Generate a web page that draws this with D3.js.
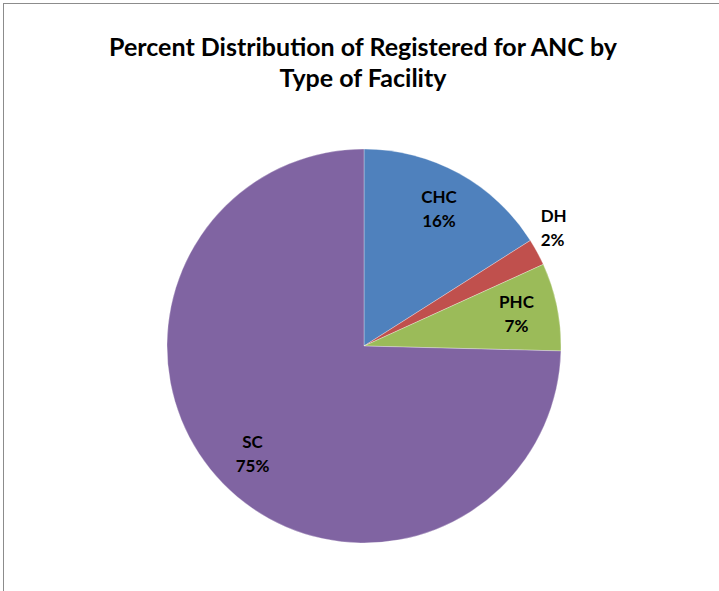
<!DOCTYPE html>
<html>
<head>
<meta charset="utf-8">
<script src="https://cdn.jsdelivr.net/npm/d3@7"></script>
<style>
  body { margin: 0; background: #fff; }
  text { font-family: Lato, "Open Sans", sans-serif; font-weight: bold; fill: #000; }
</style>
</head>
<body>
<div id="chart"></div>
<script>
// data
var categories = ["CHC", "DH", "PHC", "SC"];
var values = [16.0, 2.2, 7.2, 74.6];
var colors = ["#4F81BD", "#C0504D", "#9BBB59", "#8064A2"];
var titleLines = ["Percent Distribution of Registered for ANC by", "Type of Facility"];

var W = 719, H = 591;
var cx = 364, cy = 346, radius = 197;

var svg = d3.select("#chart")
  .append("svg")
    .attr("width", W)
    .attr("height", H);

// chart area frame (only top and left edges are in view)
svg.append("rect")
  .attr("x", 3.5).attr("y", 3.5)
  .attr("width", W + 20).attr("height", H + 20)
  .attr("fill", "none")
  .attr("stroke", "#8c8c8c")
  .attr("stroke-width", 1);

// title
svg.selectAll("text.title")
  .data(titleLines)
  .enter().append("text")
    .attr("class", "title")
    .attr("x", 363)
    .attr("y", function(d, i) { return 56 + i * 31; })
    .attr("text-anchor", "middle")
    .attr("font-size", "25px")
    .text(function(d) { return d; });

var total = d3.sum(values);
var data = categories.map(function(c, i) { return {name: c, value: values[i]}; });

var pie = d3.pie()
  .value(function(d) { return d.value; })
  .sort(null);

var arc = d3.arc().innerRadius(0).outerRadius(radius);
var labelArc = d3.arc().innerRadius(radius * 0.79).outerRadius(radius * 0.79);
var outerLabelArc = d3.arc().innerRadius(radius * 1.02).outerRadius(radius * 1.02);

var color = d3.scaleOrdinal().domain(categories).range(colors);

var g = svg.append("g")
  .attr("transform", "translate(" + cx + "," + cy + ")");

var slices = pie(data);

g.selectAll("path")
  .data(slices)
  .enter().append("path")
    .attr("d", arc)
    .attr("fill", function(d) { return color(d.data.name); })
    .attr("stroke", "#ffffff")
    .attr("stroke-opacity", 0.4)
    .attr("stroke-width", 0.75);

var fmt = d3.format(".0%");
function isSmall(d) { return d.data.value / total < 0.05; }

// small slices get their label outside, box corner resting on the rim
var labels = g.selectAll("g.label")
  .data(slices)
  .enter().append("g")
    .attr("class", "label")
    .attr("transform", function(d) {
      var c = isSmall(d) ? outerLabelArc.centroid(d) : labelArc.centroid(d);
      return "translate(" + c[0] + "," + c[1] + ")";
    });

labels.append("text")
  .attr("text-anchor", function(d) { return isSmall(d) ? "start" : "middle"; })
  .attr("font-size", "17px")
  .attr("y", function(d) { return isSmall(d) ? -28 : -7; })
  .text(function(d) { return d.data.name; });

labels.append("text")
  .attr("text-anchor", function(d) { return isSmall(d) ? "start" : "middle"; })
  .attr("font-size", "17px")
  .attr("y", function(d) { return isSmall(d) ? -4 : 17; })
  .text(function(d) { return fmt(d.data.value / total); });
</script>
</body>
</html>
